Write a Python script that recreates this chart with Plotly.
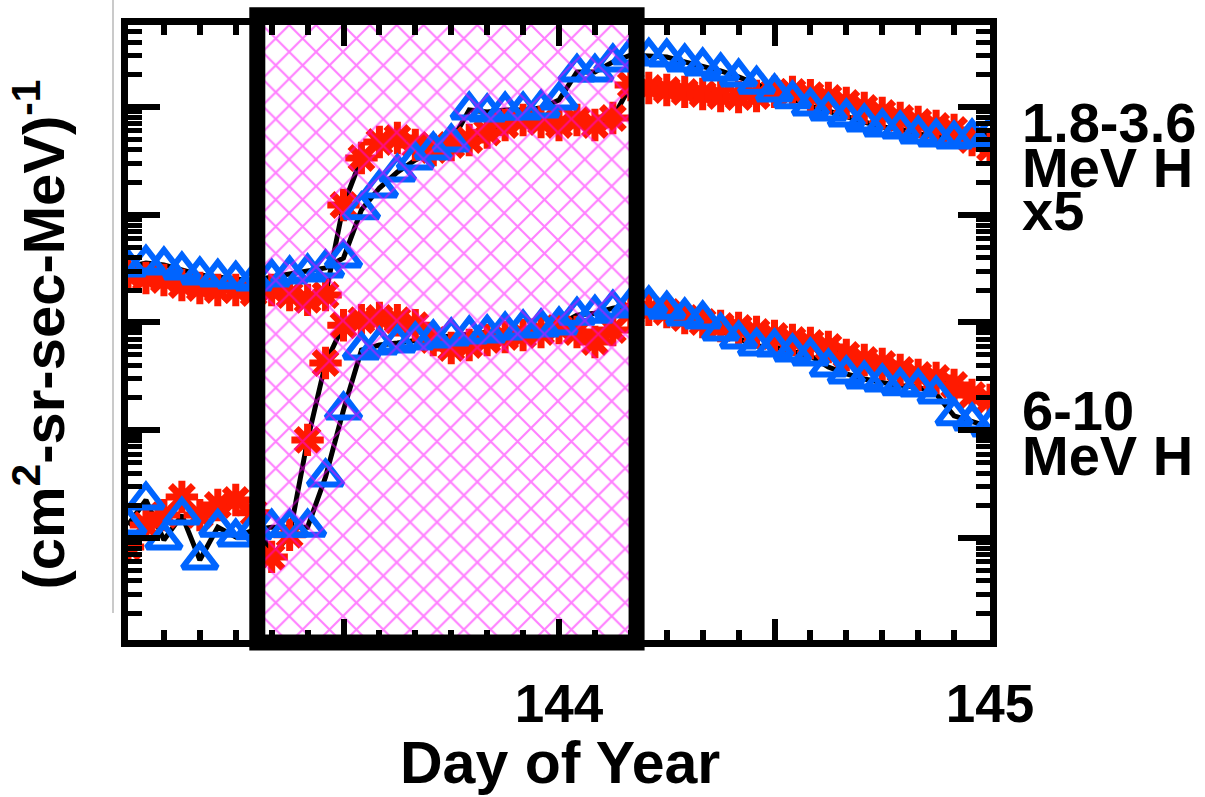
import plotly.graph_objects as go

# ---------------- data (hourly samples, day of year 143.0 - 145.0) ----------------
hours = list(range(49))
start_day = 143.0
days = [start_day + h / 24.0 for h in hours]

# 1.8-3.6 MeV H (x5)
hi_red = [276, 259, 248, 223, 209, 200, 200, 188, 200, 180, 162, 180, 1230, 3360, 4730, 5150,
          4440, 3990, 4440, 4940, 5800, 6810, 7570, 7260, 6810, 7570, 6810, 7900, 16000, 15000,
          14400, 13800, 13200, 12650, 12400, 12650, 13800, 13800, 12900, 12100, 10900, 9790,
          8790, 7900, 7260, 6660, 6110, 4940, 4160]
hi_blue = [327, 356, 342, 307, 276, 264, 253, 243, 264, 282, 294, 321, 397, 1110, 1770, 2490,
           3220, 3990, 4730, 9380, 8980, 9380, 9380, 9790, 11600, 21100, 21100, 26200, 30400,
           29700, 29100, 26200, 24000, 21600, 19000, 16300, 13800, 11900, 10200, 9180, 8070,
           7260, 6520, 6250, 5610, 5270, 5050, 5270, 5610]

# 6-10 MeV H
lo_red = [0.824, 1.32, 1.63, 2.40, 1.63, 2.02, 2.25, 1.71, 0.667, 1.07, 8.13, 42.1, 94.4, 105,
          110, 105, 94.4, 68.8, 58.0, 61.8, 68.8, 73.4, 76.5, 81.7, 88.9, 81.7, 65.9, 85.1, 125,
          131, 125, 110, 101, 92.9, 88.9, 81.7, 75.0, 68.8, 64.5, 59.2, 49.9, 44.9, 41.2, 36.2,
          32.6, 30.5, 26.3, 21.2, 19.1]
lo_blue = [1.32, 2.25, 0.957, 1.63, 0.625, 1.26, 1.02, 1.19, 1.26, 1.26, 1.26, 3.68, 15.4, 55.6,
           61.8, 64.5, 68.8, 71.8, 75.0, 78.2, 79.8, 85.1, 88.9, 90.8, 94.8, 117, 122, 136, 145,
           149, 133, 115, 108, 83.4, 70.3, 60.4, 59.2, 53.2, 48.9, 38.6, 33.3, 29.9, 28.1, 25.8,
           25.2, 21.7, 13.6, 12.2, 10.7]

x_range = [143.0, 145.0]
y_log_range = [-0.947, 4.761]
highlight_days = [143.3, 144.18]
x_major_vals = [143.0, 143.5, 144.0, 144.5, 145.0]
x_major_text = ["", "", "144", "", "145"]
upper_label = ["1.8-3.6", "MeV H", "x5"]
lower_label = ["6-10", "MeV H"]

RED = "#ff1a00"
BLUE = "#0064ff"
FONT = "Liberation Sans"

fig = go.Figure()

# connecting black lines
for ys in (hi_red, hi_blue, lo_red, lo_blue):
    fig.add_trace(go.Scatter(x=days, y=ys, mode="lines",
                             line=dict(color="black", width=5),
                             hoverinfo="skip", showlegend=False))

# red asterisks
for ys in (hi_red, lo_red):
    fig.add_trace(go.Scatter(x=days, y=ys, mode="markers",
                             marker=dict(symbol="asterisk-open", size=27, color=RED,
                                         line=dict(color=RED, width=7)),
                             showlegend=False))
# blue triangles
for ys in (hi_blue, lo_blue):
    fig.add_trace(go.Scatter(x=days, y=ys, mode="markers",
                             marker=dict(symbol="triangle-up-open", size=30, color=BLUE,
                                         line=dict(color=BLUE, width=6)),
                             showlegend=False))

# hatched highlight interval
ylo = 10 ** y_log_range[0]
yhi = 10 ** y_log_range[1]
fig.add_trace(go.Scatter(
    x=[highlight_days[0], highlight_days[1], highlight_days[1], highlight_days[0], highlight_days[0]],
    y=[ylo, ylo, yhi, yhi, ylo],
    mode="lines", line=dict(width=0, color="rgba(0,0,0,0)"),
    fill="toself", fillcolor="rgba(0,0,0,0)",
    fillpattern=dict(shape="x", fgcolor="#ff00ff", size=19, solidity=0.21),
    hoverinfo="skip", showlegend=False))

# thick black frame around highlight
fig.add_shape(type="rect", xref="x", yref="paper",
              x0=highlight_days[0], x1=highlight_days[1], y0=-0.004, y1=1.016,
              line=dict(color="black", width=16), fillcolor="rgba(0,0,0,0)", layer="above")

# faint grey artifact line at left
fig.add_shape(type="line", xref="paper", yref="paper", x0=-0.0174, x1=-0.0174,
              y0=0.044, y1=1.05, line=dict(color="#b8b8b8", width=1.5))

fig.update_layout(
    width=1205, height=797,
    margin=dict(l=128, r=215, t=25, b=157),
    paper_bgcolor="white", plot_bgcolor="white",
    showlegend=False,
    font=dict(family=FONT, color="black"),
)

fig.update_xaxes(
    range=x_range, tickmode="array", tickvals=x_major_vals, ticktext=x_major_text,
    ticks="inside", ticklen=21, tickwidth=6, tickcolor="black",
    showline=True, linewidth=7, linecolor="black", mirror="ticks",
    showgrid=False, zeroline=False,
    tickfont=dict(size=53, family=FONT, color="black", weight="bold"),
    ticklabelstandoff=11,
    minor=dict(tickmode="linear", tick0=143.0, dtick=1 / 12, ticks="inside",
               ticklen=10, tickwidth=6, tickcolor="black", showgrid=False),
)

fig.update_yaxes(
    type="log", range=y_log_range, dtick=1, showticklabels=False,
    ticks="inside", ticklen=32, tickwidth=6, tickcolor="black",
    showline=True, linewidth=7, linecolor="black", mirror="ticks",
    showgrid=False, zeroline=False,
    minor=dict(dtick="D1", ticks="inside", ticklen=14, tickwidth=5, tickcolor="black",
               showgrid=False),
)

# axis titles as annotations
fig.add_annotation(text="Day of Year", xref="paper", yref="paper", x=0.501, y=-0.2,
                   showarrow=False, xanchor="center", yanchor="middle",
                   font=dict(size=59, family=FONT, color="black", weight="bold"))
fig.add_annotation(text="(cm<sup>2</sup>-sr-sec-MeV)<sup>-1</sup>", xref="paper", yref="paper",
                   x=-0.103, y=0.497, textangle=-90, showarrow=False,
                   xanchor="center", yanchor="middle",
                   font=dict(size=58, family=FONT, color="black", weight="bold"))

upper_y = [0.8407, 0.769, 0.6976]
for txt, yy in zip(upper_label, upper_y):
    fig.add_annotation(text=txt, xref="paper", yref="paper", x=1.0348, y=yy,
                       showarrow=False, xanchor="left", yanchor="middle",
                       font=dict(size=56, family=FONT, color="black", weight="bold"))
lower_y = [0.3724, 0.2992]
for txt, yy in zip(lower_label, lower_y):
    fig.add_annotation(text=txt, xref="paper", yref="paper", x=1.0348, y=yy,
                       showarrow=False, xanchor="left", yanchor="middle",
                       font=dict(size=56, family=FONT, color="black", weight="bold"))

fig.write_html("out.html")
